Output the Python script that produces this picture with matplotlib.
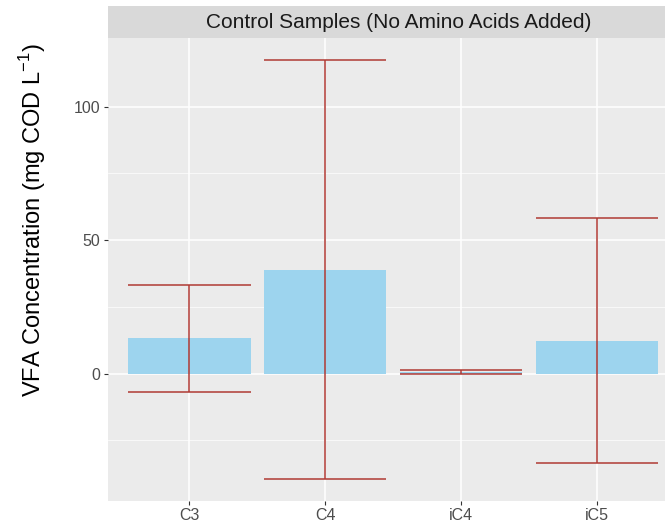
import numpy as np
import matplotlib
matplotlib.use('Agg')
import matplotlib.pyplot as plt

plt.rcParams['font.family'] = ['Liberation Sans', 'DejaVu Sans']

acids = ['C3', 'C4', 'iC4', 'iC5']
mean_conc = [13.2, 39.0, 0.75, 12.4]
sd_conc = [20.0, 78.6, 0.75, 45.9]
facet_title = 'Control Samples (No Amino Acids Added)'

W, H = 665, 523
fig = plt.figure(figsize=(W / 100, H / 100), dpi=100)

# panel (right side runs past the image edge, as in the reference crop)
ax = fig.add_axes([108 / W, 1 - 500.7 / H, 570 / W, 462.4 / H])
ax.set_facecolor('#EBEBEB')
for s in ax.spines.values():
  s.set_visible(False)

x = np.arange(len(acids))
mean_conc = np.array(mean_conc)
sd_conc = np.array(sd_conc)

ax.bar(x, mean_conc, width=0.9, color='#9DD4EE', zorder=3)
err_col = '#B03A34'
ax.vlines(x, mean_conc - sd_conc, mean_conc + sd_conc, color=err_col, lw=1.1, zorder=4)
ax.hlines(mean_conc + sd_conc, x - 0.45, x + 0.45, color=err_col, lw=1.1, zorder=4)
ax.hlines(mean_conc - sd_conc, x - 0.45, x + 0.45, color=err_col, lw=1.1, zorder=4)

ax.set_xlim(-0.6, 3.6)
ax.set_ylim(-47.6, 125.6)
ax.set_xticks(x)
ax.set_xticklabels(acids)
ax.set_yticks([0, 50, 100])
ax.set_yticks([-25, 25, 75], minor=True)
ax.grid(True, which='major', color='white', lw=1.1, zorder=0)
ax.grid(True, which='minor', axis='y', color='white', lw=0.5, zorder=0)
ax.set_axisbelow(True)
ax.tick_params(which='major', length=3, width=0.8, color='#333333',
               labelcolor='#4D4D4D', labelsize=11.5, pad=2.5)
ax.tick_params(which='minor', length=0)

# facet strip
sax = fig.add_axes([108 / W, 1 - 38.3 / H, 570 / W, 32.3 / H])
sax.set_facecolor('#D9D9D9')
sax.set_xticks([])
sax.set_yticks([])
for s in sax.spines.values():
  s.set_visible(False)
sax.text(0.51, 0.5, facet_title, ha='center', va='center', fontsize=15,
         color='#1A1A1A', transform=sax.transAxes)

fig.text(33 / W, 1 - 220 / H, 'VFA Concentration (mg COD L$^{\\mathregular{-1}}$)',
         rotation=90, ha='center', va='center', fontsize=17, color='black')

fig.savefig('out.png', dpi=100)
